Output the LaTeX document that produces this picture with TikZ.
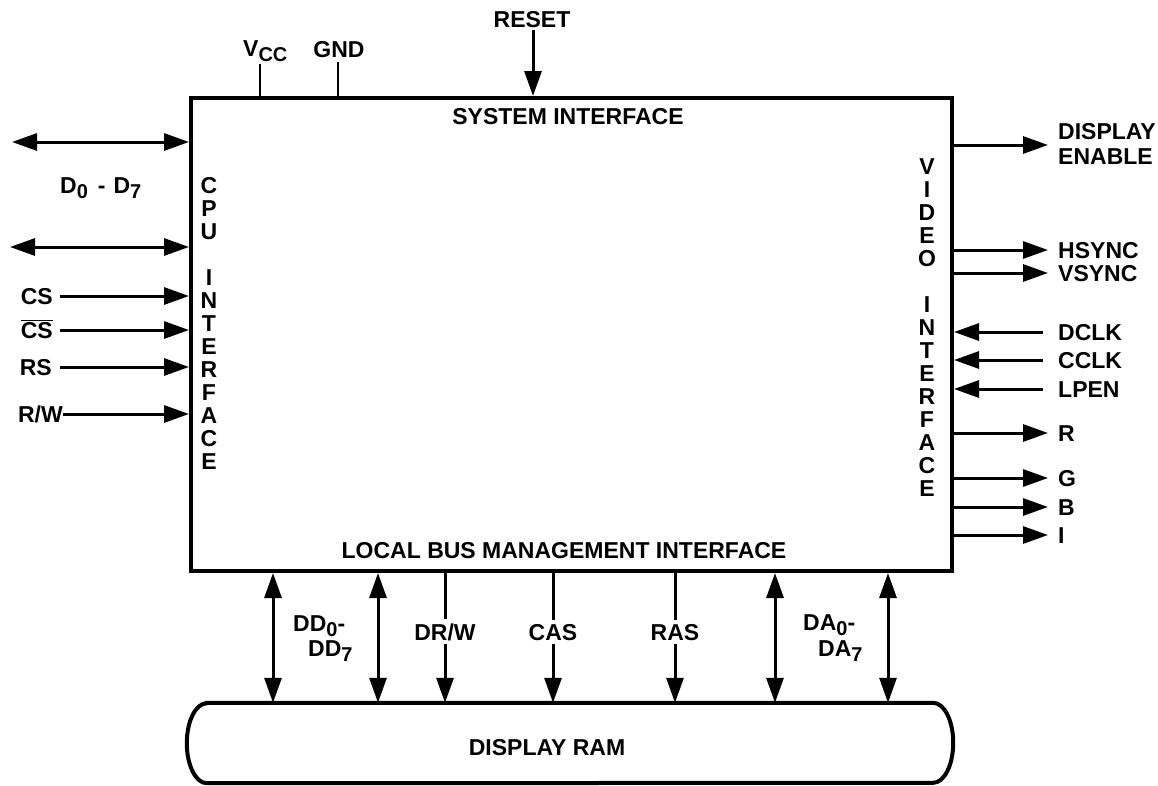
\documentclass[tikz,border=0pt]{standalone}
\usepackage{fontspec}
\setmainfont{Liberation Sans}
\usetikzlibrary{arrows.meta}
\newcommand\mysub[1]{\raisebox{-5pt}{\fontsize{20}{20}\selectfont #1}}
\begin{document}
\begin{tikzpicture}[x=1pt,y=-1pt,
  every node/.style={font=\fontsize{23}{23}\selectfont\bfseries, inner sep=0pt},
  sig/.style={line width=3pt,-{Triangle[length=25pt,width=17pt]}},
  dsig/.style={line width=3pt,{Triangle[length=25pt,width=17pt]}-{Triangle[length=25pt,width=17pt]}},
  pinline/.style={line width=2.5pt},
  border/.style={line width=4pt},
  gaplabel/.style={fill=white, inner xsep=1pt, inner ysep=4pt}]
\useasboundingbox (0,0) rectangle (1158,785);

% main chip box
\node[draw, border, minimum width=761pt, minimum height=473pt] (chip) at (571.5,334.5) {};
\node (sys) at (568,117) {SYSTEM INTERFACE};
\node (lbm) at (564,551) {LOCAL BUS MANAGEMENT INTERFACE};
\node[align=center] (cpu) at (209,323) {C\\P\\U\\[23pt]I\\N\\T\\E\\R\\F\\A\\C\\E};
\node[align=center] (vid) at (927,328) {V\\I\\D\\E\\O\\[23pt]I\\N\\T\\E\\R\\F\\A\\C\\E};

% display RAM
\node[minimum width=726pt, minimum height=80pt] (ram) at (570,743) {};
\draw[border] (ram.north west) -- (ram.north east)
  arc[start angle=90,end angle=-90,x radius=20pt,y radius=40pt]
  -- (ram.south west)
  arc[start angle=270,end angle=90,x radius=20pt,y radius=40pt] -- cycle;
\node (ramtext) at (547,748) {DISPLAY RAM};

% top pins
\node[anchor=base west] (vcc) at (243,56) {V\mysub{CC}};
\coordinate (vccP) at (260,64);
\draw[pinline] (vccP) -- (vccP |- chip.north);
\node[anchor=base] (gnd) at (339,57) {GND};
\coordinate (gndP) at (338,62);
\draw[pinline] (gndP) -- (gndP |- chip.north);
\node[anchor=base] (reset) at (532,27) {RESET};
\coordinate (rstS) at (533,30);
\draw[sig] (rstS) -- (rstS |- chip.north);

% left side
\coordinate (dA) at (12,142);
\draw[dsig] (dA) -- (dA -| chip.west);
\coordinate (dB) at (10,247);
\draw[dsig] (dB) -- (dB -| chip.west);
\node[anchor=base west] (dlab) at (60,193) {D\mysub{0}\hspace{10pt}-\hspace{8pt}D\mysub{7}};

\coordinate (csS) at (60,296);
\node[anchor=base east] (cs) at (53,304) {CS};
\draw[sig] (csS) -- (csS -| chip.west);
\coordinate (csbS) at (60,330);
\node[anchor=base east] (csb) at (53,338) {$\overline{\hbox{CS}}$};
\draw[sig] (csbS) -- (csbS -| chip.west);
\coordinate (rsS) at (60,367);
\node[anchor=base east] (rs) at (52,375) {RS};
\draw[sig] (rsS) -- (rsS -| chip.west);
\coordinate (rwS) at (63,414);
\node[anchor=base east] (rw) at (63,422) {R/W};
\draw[sig] (rwS) -- (rwS -| chip.west);

% right side
\coordinate (deE) at (1048,145);
\draw[sig] (deE -| chip.east) -- (deE);
\node[anchor=north west, align=left, font=\fontsize{23}{25}\selectfont\bfseries] (de) at (1058,123) {DISPLAY\\ENABLE};

\coordinate (hsE) at (1048,250);
\draw[sig] (hsE -| chip.east) -- (hsE);
\node[anchor=base west] (hs) at (1058,258) {HSYNC};
\coordinate (vsE) at (1048,273);
\draw[sig] (vsE -| chip.east) -- (vsE);
\node[anchor=base west] (vs) at (1058,281) {VSYNC};

\coordinate (dcS) at (1043,332);
\draw[sig] (dcS) -- (dcS -| chip.east);
\node[anchor=base west] (dclk) at (1058,340) {DCLK};
\coordinate (ccS) at (1043,360);
\draw[sig] (ccS) -- (ccS -| chip.east);
\node[anchor=base west] (cclk) at (1058,368) {CCLK};
\coordinate (lpS) at (1043,389);
\draw[sig] (lpS) -- (lpS -| chip.east);
\node[anchor=base west] (lpen) at (1058,397) {LPEN};

\coordinate (rE) at (1048,433);
\draw[sig] (rE -| chip.east) -- (rE);
\node[anchor=base west] (rout) at (1058,441) {R};
\coordinate (gE) at (1048,478);
\draw[sig] (gE -| chip.east) -- (gE);
\node[anchor=base west] (gout) at (1058,486) {G};
\coordinate (bE) at (1048,507);
\draw[sig] (bE -| chip.east) -- (bE);
\node[anchor=base west] (bout) at (1058,515) {B};
\coordinate (iE) at (1048,535);
\draw[sig] (iE -| chip.east) -- (iE);
\node[anchor=base west] (iout) at (1058,543) {I};

% bottom bus
\foreach \i/\x/\s in {1/273/dsig,2/378/dsig,3/445/sig,4/553/sig,5/675/sig,6/775/dsig,7/888/dsig}{
  \coordinate (b\i) at (\x,703);
  \draw[\s] (b\i |- chip.south) -- (b\i |- ram.north);
}
\node[anchor=base west] (dd0) at (293,631) {DD\mysub{0}-};
\node[anchor=base west] (dd7) at (308,656) {DD\mysub{7}};
\node[gaplabel, anchor=base] (drw) at (445,640) {DR/W};
\node[gaplabel, anchor=base] (cas) at (553,640) {CAS};
\node[gaplabel, anchor=base] (ras) at (675,640) {RAS};
\node[anchor=base west] (da0) at (803,630) {DA\mysub{0}-};
\node[anchor=base west] (da7) at (818,656) {DA\mysub{7}};
\end{tikzpicture}
\end{document}
